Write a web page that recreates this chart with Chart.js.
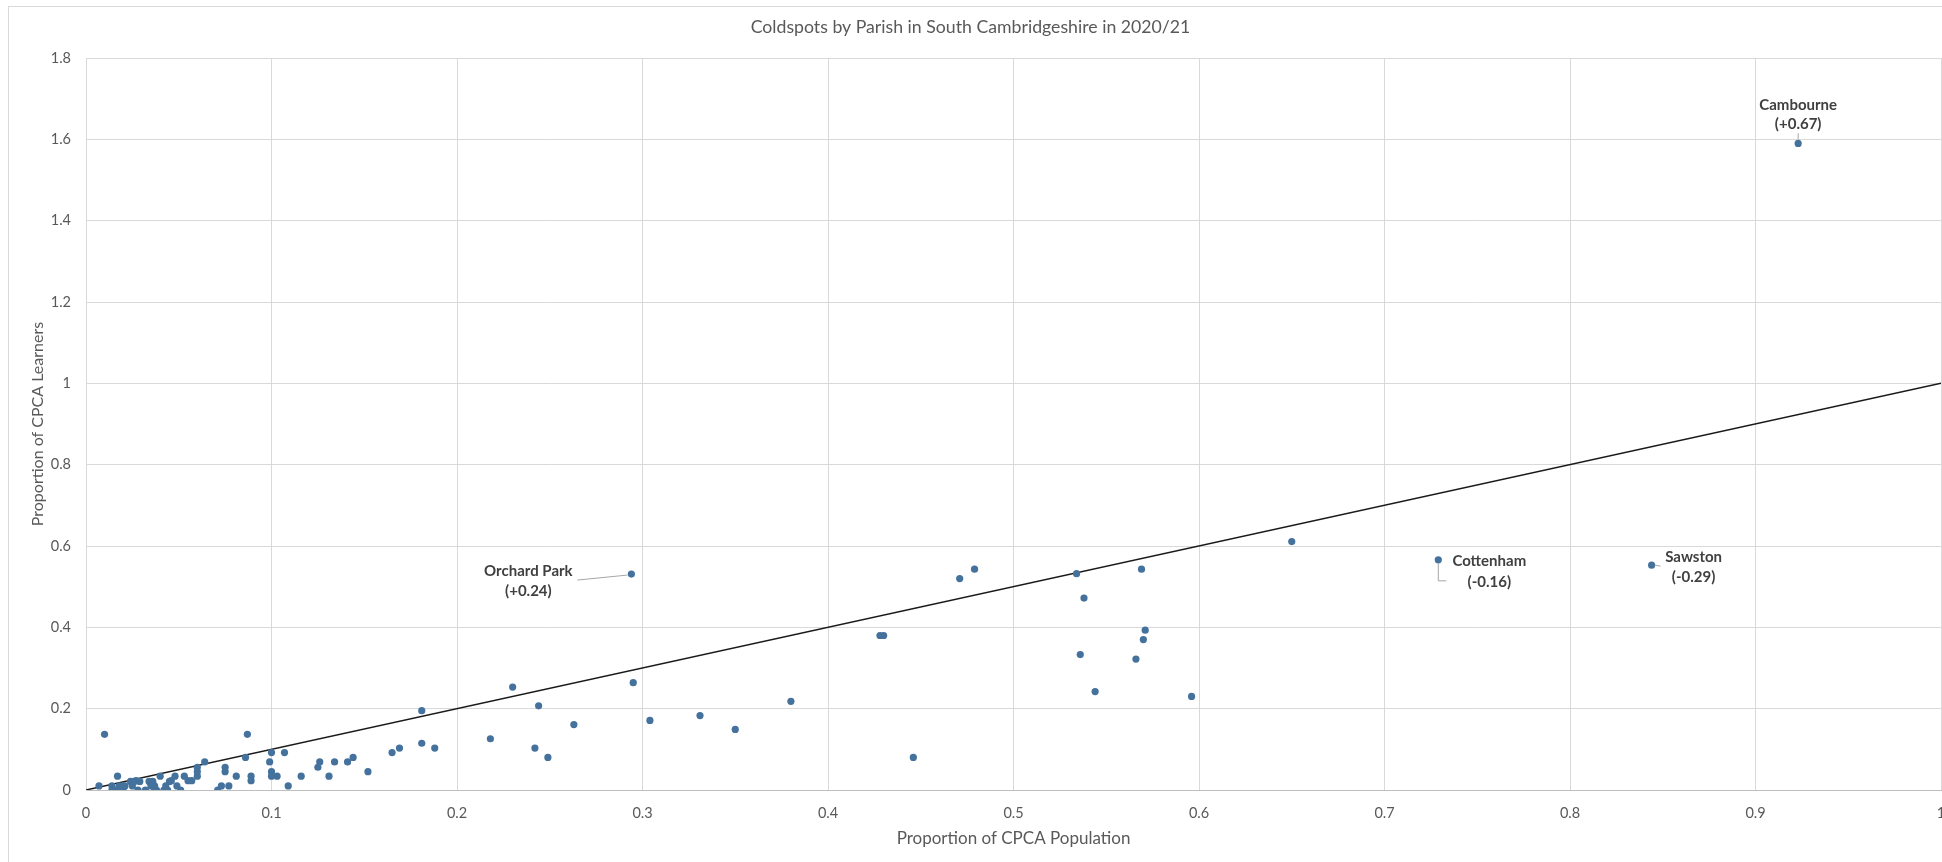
<!DOCTYPE html>
<html>
<head>
<meta charset="utf-8">
<script src="https://cdn.jsdelivr.net/npm/chart.js@4.4.1/dist/chart.umd.min.js"></script>
<style>
  html, body { margin: 0; padding: 0; background: #fff; overflow: hidden; }
  #wrap { position: relative; width: 1966px; height: 862px; }
  #frame { position: absolute; left: 8px; top: 6px; width: 2000px; height: 1000px; border: 1px solid #d9d9d9; pointer-events: none; }
</style>
</head>
<body>
<div id="wrap">
  <canvas id="coldspots" width="1966" height="862"></canvas>
  <div id="frame"></div>
</div>
<script>
// proportion of CPCA population (x) and of CPCA learners (y), one pair per parish
const popShare = [
  0.007, 0.010, 0.014, 0.014, 0.015, 0.016, 0.017, 0.018, 0.018, 0.019,
  0.020, 0.020, 0.021, 0.024, 0.025, 0.026, 0.027, 0.028, 0.029, 0.032,
  0.034, 0.035, 0.036, 0.037, 0.037, 0.038, 0.040, 0.042, 0.043, 0.044,
  0.045, 0.046, 0.048, 0.049, 0.051, 0.053, 0.055, 0.057, 0.060, 0.060,
  0.060, 0.064, 0.071, 0.073, 0.075, 0.075, 0.077, 0.081, 0.086, 0.087,
  0.089, 0.089, 0.099, 0.100, 0.100, 0.100, 0.103, 0.107, 0.109, 0.116,
  0.125, 0.126, 0.131, 0.134, 0.141, 0.144, 0.152, 0.165, 0.169, 0.181,
  0.181, 0.188, 0.218, 0.230, 0.242, 0.244, 0.249, 0.263, 0.294, 0.295,
  0.304, 0.331, 0.350, 0.380, 0.428, 0.430, 0.446, 0.471, 0.479, 0.534,
  0.536, 0.538, 0.544, 0.566, 0.569, 0.570, 0.571, 0.596, 0.650, 0.729,
  0.844, 0.923
];
const learnerShare = [
  0.010, 0.137, 0.010, 0.000, 0.000, 0.000, 0.034, 0.010, 0.000, 0.000,
  0.010, 0.000, 0.010, 0.021, 0.010, 0.021, 0.023, 0.000, 0.021, 0.000,
  0.021, 0.010, 0.021, 0.010, 0.000, 0.000, 0.034, 0.000, 0.010, 0.000,
  0.021, 0.023, 0.034, 0.010, 0.000, 0.034, 0.023, 0.023, 0.045, 0.056,
  0.034, 0.069, 0.000, 0.010, 0.045, 0.056, 0.010, 0.034, 0.080, 0.137,
  0.034, 0.023, 0.069, 0.092, 0.045, 0.034, 0.034, 0.092, 0.010, 0.034,
  0.056, 0.069, 0.034, 0.069, 0.069, 0.080, 0.045, 0.092, 0.103, 0.195,
  0.115, 0.103, 0.126, 0.253, 0.103, 0.207, 0.080, 0.161, 0.531, 0.264,
  0.171, 0.183, 0.149, 0.218, 0.380, 0.380, 0.080, 0.520, 0.543, 0.532,
  0.333, 0.472, 0.242, 0.322, 0.543, 0.370, 0.393, 0.230, 0.611, 0.566,
  0.553, 1.590
];

// parity line
const parityX = [0, 1];
const parityY = [0, 1];

// labelled parishes: index into the arrays above
const calloutPoint = [78, 99, 100, 101];
const calloutName = ['Orchard Park', 'Cottenham', 'Sawston', 'Cambourne'];
const calloutDiff = ['(+0.24)', '(-0.16)', '(-0.29)', '(+0.67)'];

const xTicks = [0, 0.1, 0.2, 0.3, 0.4, 0.5, 0.6, 0.7, 0.8, 0.9, 1];
const yTicks = [0, 0.2, 0.4, 0.6, 0.8, 1, 1.2, 1.4, 1.6, 1.8];

const grey = '#595959';
const family = 'Lato, "Open Sans", sans-serif';

// where each callout's text and leader sit, relative to its dot (px)
const calloutStyle = [
  { dx: -103, dy: [-3, 17], leader: [[-54, 6], [-4, 1]] },
  { dx: 51, dy: [1, 22], leader: [[0, 4], [0, 21], [8, 21]] },
  { dx: 42, dy: [-8, 12], leader: [[3, 0], [9, 1]] },
  { dx: 0, dy: [-38, -19], leader: [[0, -10], [0, -4]] }
];

const calloutPlugin = {
  id: 'callouts',
  afterDatasetsDraw(chart) {
    const { ctx, scales: { x, y } } = chart;
    ctx.save();
    calloutPoint.forEach((idx, i) => {
      const px = x.getPixelForValue(popShare[idx]);
      const py = y.getPixelForValue(learnerShare[idx]);
      const st = calloutStyle[i];

      ctx.strokeStyle = '#a6a6a6';
      ctx.lineWidth = 1;
      ctx.beginPath();
      st.leader.forEach(([lx, ly], k) => {
        if (k === 0) ctx.moveTo(px + lx, py + ly);
        else ctx.lineTo(px + lx, py + ly);
      });
      ctx.stroke();

      ctx.fillStyle = '#404040';
      ctx.font = 'bold 15px ' + family;
      ctx.textAlign = 'center';
      ctx.textBaseline = 'middle';
      ctx.fillText(calloutName[i], px + st.dx, py + st.dy[0]);
      ctx.fillText(calloutDiff[i], px + st.dx, py + st.dy[1]);
    });
    ctx.restore();
  }
};

const fmt = v => String(Number(v.toFixed(1)));

new Chart(document.getElementById('coldspots'), {
  type: 'scatter',
  data: {
    datasets: [
      {
        label: 'Parishes',
        data: popShare.map((v, i) => ({ x: v, y: learnerShare[i] })),
        backgroundColor: '#44729d',
        borderColor: '#44729d',
        pointRadius: 3.6,
        pointBorderWidth: 0,
        order: 1
      },
      {
        type: 'line',
        label: 'Parity',
        data: parityX.map((v, i) => ({ x: v, y: parityY[i] })),
        borderColor: '#1a1a1a',
        borderWidth: 1.5,
        pointRadius: 0,
        fill: false,
        order: 2
      }
    ]
  },
  options: {
    responsive: false,
    animation: false,
    layout: { padding: { left: 0, right: 25, top: 0, bottom: 0 } },
    plugins: {
      legend: { display: false },
      tooltip: { enabled: false },
      title: {
        display: true,
        text: 'Coldspots by Parish in South Cambridgeshire in 2020/21',
        color: grey,
        font: { family, size: 17.7, weight: 'normal', lineHeight: 1.2 },
        padding: { top: 16.5, bottom: 20.3 }
      }
    },
    scales: {
      x: {
        type: 'linear',
        min: 0,
        max: 1,
        afterBuildTicks: s => { s.ticks = xTicks.map(v => ({ value: v })); },
        afterFit: s => { s.height = 72; },
        grid: { color: '#d9d9d9', drawTicks: false },
        border: { color: '#bfbfbf' },
        ticks: { color: grey, padding: 15, font: { family, size: 14.5 }, callback: fmt, maxRotation: 0 },
        title: {
          display: true,
          text: 'Proportion of CPCA Population',
          color: grey,
          font: { family, size: 17, lineHeight: 1.2 },
          padding: { top: 0, bottom: 13 }
        }
      },
      y: {
        type: 'linear',
        min: 0,
        max: 1.8,
        afterBuildTicks: s => { s.ticks = yTicks.map(v => ({ value: v })); },
        afterFit: s => { s.width = 86; },
        grid: { color: '#d9d9d9', drawTicks: false },
        border: { color: '#d9d9d9' },
        ticks: { color: grey, padding: 15, font: { family, size: 14.5 }, callback: fmt },
        title: {
          display: true,
          text: 'Proportion of CPCA Learners',
          color: grey,
          font: { family, size: 16, lineHeight: 1.2 },
          padding: { top: 28, bottom: 0 }
        }
      }
    }
  },
  plugins: [calloutPlugin]
});
</script>
</body>
</html>
